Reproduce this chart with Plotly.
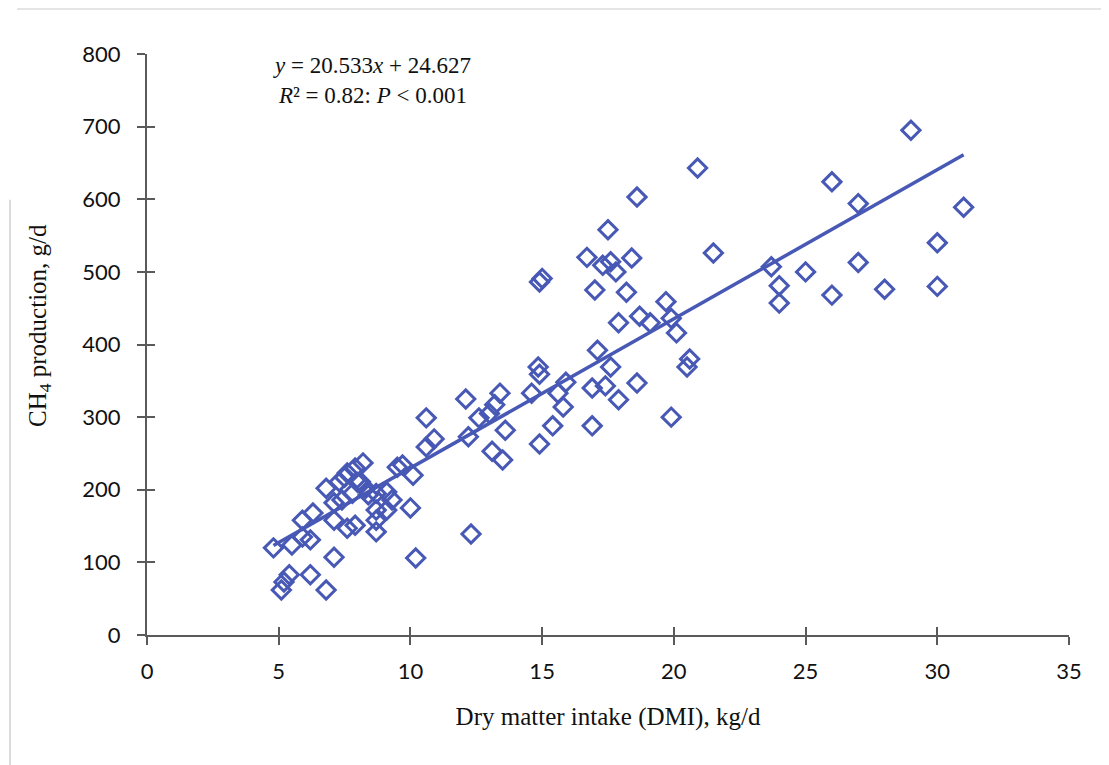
import plotly.graph_objects as go

# Data
dmi = [4.8, 5.5, 5.9, 6.2, 5.9, 6.3, 7.1, 6.2, 5.4, 5.2, 5.1, 6.8, 10.2, 6.8, 7.1, 7.1, 7.6, 7.9,
       7.3, 7.6, 7.9, 8.2, 8.1, 7.4, 7.8, 8.3, 8.7, 8.7, 8.7, 9.1, 9.3, 9.1, 9.5, 9.7, 10.1, 10.0,
       8.4, 8.7, 7.5, 8.0,
       10.6, 10.9, 10.6, 12.1, 12.2, 12.3, 12.6, 13.0, 13.2, 13.4, 13.6, 13.1, 13.5, 14.6, 14.9,
       14.85, 14.9, 14.9, 15.0, 15.4, 15.6, 15.8, 15.9, 16.7, 16.9, 16.9, 17.0, 17.1, 17.3, 17.4,
       17.5, 17.6, 17.6, 17.8, 17.9, 17.9, 18.2, 18.4, 18.6, 18.6, 18.7, 19.1, 19.7, 19.9, 19.9,
       20.1, 20.5, 20.6, 20.9, 21.5,
       23.7, 24.0, 24.0, 25.0, 26.0, 26.0, 27.0, 27.0, 28.0, 29.0, 30.0, 30.0, 31.0]
ch4 = [120, 124, 135, 131, 158, 168, 107, 83, 83, 73, 62, 62, 106, 202, 182, 158, 147, 151,
       211, 223, 230, 237, 211, 186, 195, 202, 172, 158, 142, 197, 186, 172, 231, 234, 220, 175,
       193, 195, 217, 210,
       299, 270, 259, 325, 273, 139, 299, 305, 317, 333, 282, 253, 241, 333, 263,
       369, 359, 486, 491, 288, 333, 314, 348, 520, 288, 340, 475, 392, 509, 343,
       558, 514, 369, 500, 430, 324, 472, 519, 603, 347, 439, 430, 459, 436, 300,
       416, 369, 380, 643, 526,
       507, 481, 457, 500, 468, 624, 594, 513, 476, 695, 480, 540, 589]

slope = 20.533
intercept = 24.627
x_ticks = [0, 5, 10, 15, 20, 25, 30, 35]
y_ticks = [0, 100, 200, 300, 400, 500, 600, 700, 800]

blue = "#4758B5"
axis_col = "#5a5a5a"

x_fit = [min(dmi), max(dmi)]
y_fit = [slope * v + intercept for v in x_fit]

fig = go.Figure()
fig.add_trace(go.Scatter(
    x=dmi, y=ch4, mode="markers",
    marker=dict(symbol="diamond-open", size=14, color=blue, line=dict(width=3, color=blue)),
    showlegend=False, hoverinfo="x+y"))
fig.add_trace(go.Scatter(
    x=x_fit, y=y_fit, mode="lines", line=dict(color=blue, width=3.5),
    showlegend=False, hoverinfo="skip"))
# invisible trace for the overlay axes (inner half of crossing ticks)
fig.add_trace(go.Scatter(x=[0], y=[0], xaxis="x2", yaxis="y2", mode="markers",
                         marker=dict(opacity=0), showlegend=False, hoverinfo="skip"))

tick_font = dict(family="Lato, Open Sans, sans-serif", size=22, color="#111")
serif = "Liberation Serif, Times New Roman, serif"
title_font = dict(family=serif, size=25, color="#111")

fig.update_layout(
    width=1101, height=757,
    margin=dict(l=139, r=40, t=46, b=130),
    paper_bgcolor="white", plot_bgcolor="white",
    xaxis=dict(range=[0, 35], tickvals=x_ticks, showgrid=False, zeroline=False,
               showline=True, linecolor=axis_col, linewidth=2,
               ticks="outside", ticklen=8, tickwidth=2, tickcolor=axis_col,
               tickfont=tick_font, ticklabelstandoff=8,
               title=dict(text="Dry matter intake (DMI), kg/d", font=title_font, standoff=24)),
    yaxis=dict(range=[0, 800], tickvals=y_ticks, showgrid=False, zeroline=False,
               showline=True, linecolor=axis_col, linewidth=2,
               ticks="outside", ticklen=8, tickwidth=2, tickcolor=axis_col,
               tickfont=tick_font, ticklabelstandoff=12),
    xaxis2=dict(range=[0, 35], tickvals=x_ticks, overlaying="x", anchor="y2",
                showticklabels=False, showgrid=False, zeroline=False, showline=False,
                ticks="inside", ticklen=8, tickwidth=2, tickcolor=axis_col, side="bottom"),
    yaxis2=dict(range=[0, 800], tickvals=y_ticks, overlaying="y", anchor="x2",
                showticklabels=False, showgrid=False, zeroline=False, showline=False,
                ticks="inside", ticklen=8, tickwidth=2, tickcolor=axis_col, side="left"),
    annotations=[
        dict(xref="paper", yref="paper", x=0.244, y=0.954, xanchor="center", yanchor="middle",
             showarrow=False, align="center",
             text="<i>y</i> = 20.533<i>x</i> + 24.627<br><i>R</i>² = 0.82: <i>P</i> < 0.001",
             font=dict(family=serif, size=23, color="#111")),
        dict(xref="paper", yref="paper", x=-0.116, y=0.532, xanchor="center", yanchor="middle",
             showarrow=False, textangle=-90,
             text="CH<sub>4</sub> production, g/d", font=title_font),
    ],
    shapes=[
        dict(type="line", xref="paper", yref="paper", x0=-0.141, x1=1.05, y0=1.0775, y1=1.0775,
             line=dict(color="#dcdcdc", width=1.5)),
        dict(type="line", xref="paper", yref="paper", x0=-0.1486, x1=-0.1486, y0=0.749, y1=-0.224,
             line=dict(color="#dcdcdc", width=2)),
    ],
)

fig.write_html("out.html")
